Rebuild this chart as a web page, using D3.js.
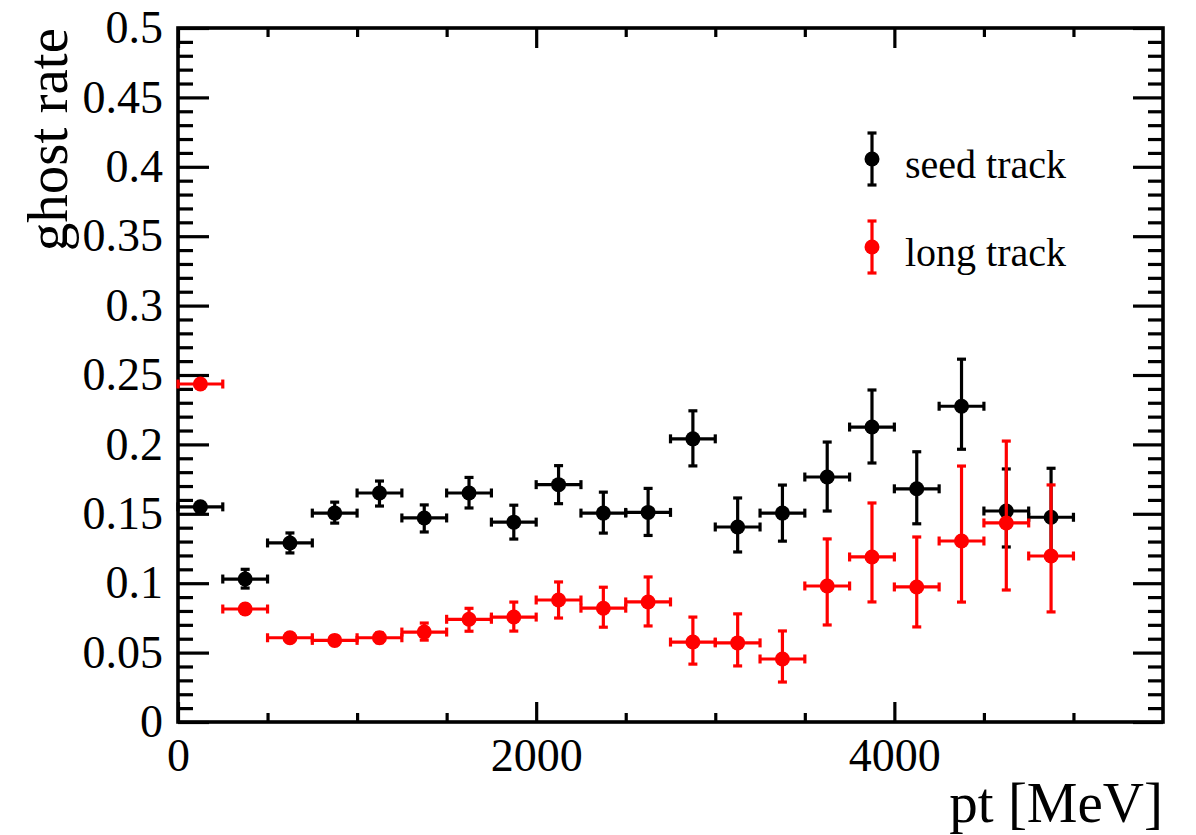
<!DOCTYPE html>
<html>
<head>
<meta charset="utf-8">
<script src="https://cdn.jsdelivr.net/npm/d3@7"></script>
<style>
  html, body { margin: 0; padding: 0; background: #fff; }
  svg { display: block; }
</style>
</head>
<body>
<svg id="chart" width="1196" height="835"></svg>
<script>
// ---- data ----
const ptBinCenters = [125, 375, 625, 875, 1125, 1375, 1625, 1875, 2125, 2375,
                      2625, 2875, 3125, 3375, 3625, 3875, 4125, 4375, 4625, 4875];
const ptBinHalfWidth = 125;

const seedRate    = [0.155, 0.103, 0.129, 0.1505, 0.165, 0.147, 0.165, 0.144, 0.171, 0.1505,
                     0.151, 0.204, 0.1405, 0.1505, 0.1765, 0.2125, 0.168, 0.2275, 0.152, 0.1475];
const seedErrUp   = [0.002, 0.007, 0.0072, 0.0079, 0.0086, 0.0094, 0.0112, 0.0122, 0.0137, 0.0151,
                     0.0173, 0.0202, 0.0209, 0.0202, 0.0252, 0.0267, 0.0267, 0.0339, 0.0303, 0.0353];
const seedErrDown = [0.002, 0.0065, 0.0072, 0.0072, 0.0094, 0.0101, 0.0108, 0.0122, 0.0137, 0.0144,
                     0.0166, 0.0195, 0.018, 0.0202, 0.0245, 0.0259, 0.0252, 0.031, 0.0259, 0.031];

const longRate    = [0.2435, 0.0814, 0.0607, 0.0588, 0.0607, 0.0648, 0.074, 0.0756, 0.0879, 0.082,
                     0.0865, 0.0576, 0.057, 0.0454, 0.098, 0.1189, 0.0973, 0.1304, 0.1434, 0.1196];
const longErrUp   = [0.002, 0.003, 0.003, 0.003, 0.0035, 0.0065, 0.0079, 0.0108, 0.013, 0.0151,
                     0.018, 0.018, 0.0209, 0.0202, 0.0339, 0.0389, 0.036, 0.054, 0.059, 0.0512];
const longErrDown = [0.002, 0.003, 0.003, 0.003, 0.0035, 0.0058, 0.0086, 0.0101, 0.013, 0.0137,
                     0.0173, 0.0159, 0.0166, 0.0166, 0.0281, 0.0324, 0.0288, 0.044, 0.0483, 0.0403];

const seriesNames = ["seed track", "long track"];
const seriesColors = ["#000000", "#ff0000"];

const xMajorTicks = [0, 2000, 4000];
const xMinorTicks = [500, 1000, 1500, 2500, 3000, 3500, 4500, 5000];
const yMajorTicks = [0, 0.05, 0.1, 0.15, 0.2, 0.25, 0.3, 0.35, 0.4, 0.45, 0.5];
const yTickLabels = ["0", "0.05", "0.1", "0.15", "0.2", "0.25", "0.3", "0.35", "0.4", "0.45", "0.5"];
const yMinorTicks = d3.range(0, 51).map(i => i / 100).filter(v => Math.round(v * 100) % 5 !== 0);

const xTitle = "pt [MeV]";
const yTitle = "ghost rate";

// ---- layout ----
const L = 178, R = 1163, T = 28, B = 722;
const FONT = "'Liberation Serif', 'Times New Roman', serif";
const LW = 3.2;

const svg = d3.select("#chart");
svg.append("rect").attr("width", 1196).attr("height", 835).attr("fill", "#fff");

const x = d3.scaleLinear().domain([0, 5500]).range([L, R]);
const y = d3.scaleLinear().domain([0, 0.5]).range([B, T]);

function styleAxis(g) {
  g.select(".domain").remove();
  g.selectAll("line").attr("stroke", "#000").attr("stroke-width", LW);
  g.selectAll("text").attr("font-family", FONT).attr("font-size", 46).attr("fill", "#000");
}

// left axis
svg.append("g").attr("transform", `translate(${L},0)`)
  .call(d3.axisLeft(y).tickValues(yMajorTicks).tickSize(-31).tickPadding(15)
        .tickFormat((d, i) => yTickLabels[i]))
  .call(styleAxis);
svg.append("g").attr("transform", `translate(${L},0)`)
  .call(d3.axisLeft(y).tickValues(yMinorTicks).tickSize(-15).tickFormat(""))
  .call(styleAxis);
// right axis
svg.append("g").attr("transform", `translate(${R},0)`)
  .call(d3.axisRight(y).tickValues(yMajorTicks).tickSize(-30).tickFormat(""))
  .call(styleAxis);
svg.append("g").attr("transform", `translate(${R},0)`)
  .call(d3.axisRight(y).tickValues(yMinorTicks).tickSize(-15).tickFormat(""))
  .call(styleAxis);
// bottom axis
svg.append("g").attr("transform", `translate(0,${B})`)
  .call(d3.axisBottom(x).tickValues(xMajorTicks).tickSize(-20).tickPadding(16)
        .tickFormat(d3.format("d")))
  .call(styleAxis);
svg.append("g").attr("transform", `translate(0,${B})`)
  .call(d3.axisBottom(x).tickValues(xMinorTicks).tickSize(-9).tickFormat(""))
  .call(styleAxis);
// top axis
svg.append("g").attr("transform", `translate(0,${T})`)
  .call(d3.axisTop(x).tickValues(xMajorTicks).tickSize(-20).tickFormat(""))
  .call(styleAxis);
svg.append("g").attr("transform", `translate(0,${T})`)
  .call(d3.axisTop(x).tickValues(xMinorTicks).tickSize(-9).tickFormat(""))
  .call(styleAxis);

// frame
svg.append("rect").attr("x", L).attr("y", T).attr("width", R - L).attr("height", B - T)
  .attr("fill", "none").attr("stroke", "#000").attr("stroke-width", 3.6);

// titles
svg.append("text").attr("x", R).attr("y", 822).attr("text-anchor", "end")
  .attr("font-family", FONT).attr("font-size", 57).text(xTitle);
svg.append("text").attr("transform", `translate(67,${T}) rotate(-90)`)
  .attr("text-anchor", "end")
  .attr("font-family", FONT).attr("font-size", 57).text(yTitle);

// data series
const CAP = 4.5;
const MR = 7.5;
function drawSeries(rates, errUp, errDown, color) {
  const g = svg.append("g").attr("stroke", color).attr("stroke-width", LW).attr("fill", color);
  const pts = ptBinCenters.map((c, i) => ({ c, v: rates[i], eu: errUp[i], ed: errDown[i] }));
  const p = g.selectAll("g.pt").data(pts).join("g").attr("class", "pt");
  // horizontal bar (bin width)
  p.append("line")
    .attr("x1", d => x(d.c - ptBinHalfWidth)).attr("x2", d => x(d.c + ptBinHalfWidth))
    .attr("y1", d => y(d.v)).attr("y2", d => y(d.v));
  p.append("line")
    .attr("x1", d => x(d.c - ptBinHalfWidth)).attr("x2", d => x(d.c - ptBinHalfWidth))
    .attr("y1", d => y(d.v) - CAP).attr("y2", d => y(d.v) + CAP);
  p.append("line")
    .attr("x1", d => x(d.c + ptBinHalfWidth)).attr("x2", d => x(d.c + ptBinHalfWidth))
    .attr("y1", d => y(d.v) - CAP).attr("y2", d => y(d.v) + CAP);
  // vertical (asymmetric) error bar
  p.append("line")
    .attr("x1", d => x(d.c)).attr("x2", d => x(d.c))
    .attr("y1", d => y(d.v - d.ed)).attr("y2", d => y(d.v + d.eu));
  p.append("line")
    .attr("x1", d => x(d.c) - CAP).attr("x2", d => x(d.c) + CAP)
    .attr("y1", d => y(d.v + d.eu)).attr("y2", d => y(d.v + d.eu));
  p.append("line")
    .attr("x1", d => x(d.c) - CAP).attr("x2", d => x(d.c) + CAP)
    .attr("y1", d => y(d.v - d.ed)).attr("y2", d => y(d.v - d.ed));
  p.append("circle").attr("cx", d => x(d.c)).attr("cy", d => y(d.v)).attr("r", MR).attr("stroke", "none");
}
drawSeries(seedRate, seedErrUp, seedErrDown, seriesColors[0]);
drawSeries(longRate, longErrUp, longErrDown, seriesColors[1]);

// legend
const legendY = [159, 247];
const lg = svg.append("g");
seriesNames.forEach((name, i) => {
  const cy = legendY[i], cx = 872, c = seriesColors[i];
  const gg = lg.append("g").attr("stroke", c).attr("stroke-width", LW);
  gg.append("line").attr("x1", cx).attr("x2", cx).attr("y1", cy - 26).attr("y2", cy + 26);
  gg.append("line").attr("x1", cx - CAP).attr("x2", cx + CAP).attr("y1", cy - 26).attr("y2", cy - 26);
  gg.append("line").attr("x1", cx - CAP).attr("x2", cx + CAP).attr("y1", cy + 26).attr("y2", cy + 26);
  gg.append("circle").attr("cx", cx).attr("cy", cy).attr("r", MR).attr("fill", c).attr("stroke", "none");
  lg.append("text").attr("x", 905).attr("y", cy + 19)
    .attr("font-family", FONT).attr("font-size", 40).attr("fill", "#000").text(name);
});
</script>
</body>
</html>
